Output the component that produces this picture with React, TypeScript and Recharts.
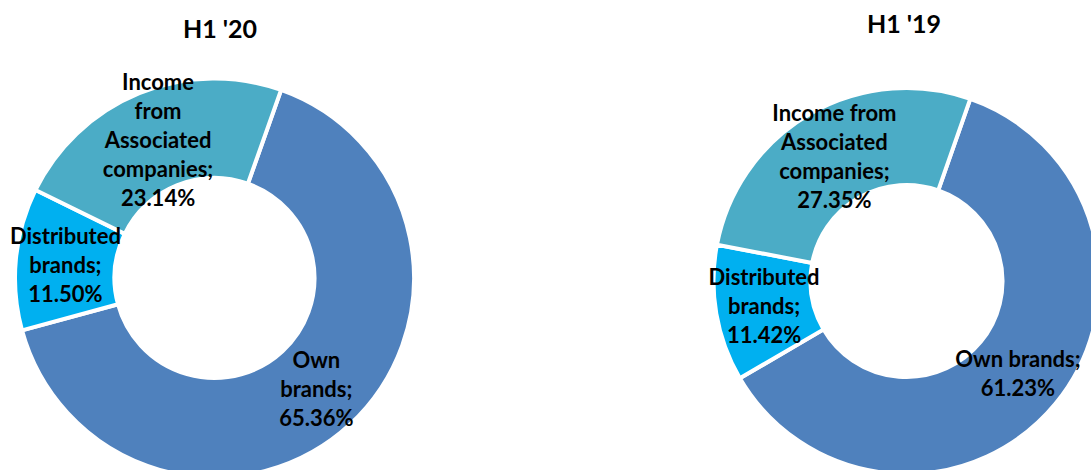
import React from 'react';
import { PieChart, Pie, Cell } from 'recharts';

const categories = ['Own brands', 'Distributed brands', 'Income from Associated companies'];
const valuesH120 = [65.36, 11.5, 23.14];
const valuesH119 = [61.23, 11.42, 27.35];
const titles = ["H1 '20", "H1 '19"];
// label wrapping (text lines, value appended)
const wrapH120 = [['Own', 'brands;'], ['Distributed', 'brands;'], ['Income', 'from', 'Associated', 'companies;']];
const wrapH119 = [['Own brands;'], ['Distributed', 'brands;'], ['Income from', 'Associated', 'companies;']];

const COLORS = ['#4F81BD', '#00B0F0', '#4BACC6'];
const FONT = 'Lato, "Open Sans", sans-serif';
const LH = 29;

const dataH120 = categories.map((name, i) => ({ name, value: valuesH120[i], lines: wrapH120[i] }));
const dataH119 = categories.map((name, i) => ({ name, value: valuesH119[i], lines: wrapH119[i] }));

const RAD = Math.PI / 180;

const renderLabel = (props: any) => {
  const { cx, cy, midAngle, innerRadius, outerRadius, payload, value } = props;
  const r = (innerRadius + outerRadius) / 2;
  const x = cx + r * Math.cos(-midAngle * RAD);
  const y = cy + r * Math.sin(-midAngle * RAD);
  const lines: string[] = [...(payload.lines || []), `${Number(value).toFixed(2)}%`];
  const y0 = y - ((lines.length - 1) / 2) * LH;
  return (
    <text
      x={x}
      y={y0}
      textAnchor="middle"
      dominantBaseline="central"
      fill="#000"
      fontFamily={FONT}
      fontWeight={700}
      fontSize={22}
    >
      {lines.map((l, i) => (
        <tspan key={i} x={x} y={y0 + i * LH}>
          {l}
        </tspan>
      ))}
    </text>
  );
};

const titleStyle: React.CSSProperties = {
  position: 'absolute',
  width: 200,
  textAlign: 'center',
  fontFamily: FONT,
  fontWeight: 700,
  fontSize: 25,
  lineHeight: '28px',
  color: '#000',
};

export default function App() {
  return (
    <div style={{ position: 'absolute', left: 0, top: 0, width: 1091, height: 470, overflow: 'hidden', background: '#fff' }}>
      <PieChart width={1091} height={470} margin={{ top: 0, right: 0, bottom: 0, left: 0 }} style={{ position: 'absolute', left: 0, top: 0 }}>
        <Pie
          data={dataH120}
          dataKey="value"
          nameKey="name"
          cx={214.5}
          cy={278}
          innerRadius={100}
          outerRadius={199.5}
          startAngle={70.5}
          endAngle={-289.5}
          stroke="#fff"
          strokeWidth={4}
          isAnimationActive={false}
          labelLine={false}
          label={renderLabel}
        >
          {dataH120.map((d, i) => (
            <Cell key={d.name} fill={COLORS[i]} />
          ))}
        </Pie>
        <Pie
          data={dataH119}
          dataKey="value"
          nameKey="name"
          cx={906.5}
          cy={281}
          innerRadius={96}
          outerRadius={193}
          startAngle={70.7}
          endAngle={-289.3}
          stroke="#fff"
          strokeWidth={4}
          isAnimationActive={false}
          labelLine={false}
          label={renderLabel}
        >
          {dataH119.map((d, i) => (
            <Cell key={d.name} fill={COLORS[i]} />
          ))}
        </Pie>
      </PieChart>
      <div style={{ ...titleStyle, left: 120, top: 14 }}>{titles[0]}</div>
      <div style={{ ...titleStyle, left: 804, top: 9 }}>{titles[1]}</div>
    </div>
  );
}
